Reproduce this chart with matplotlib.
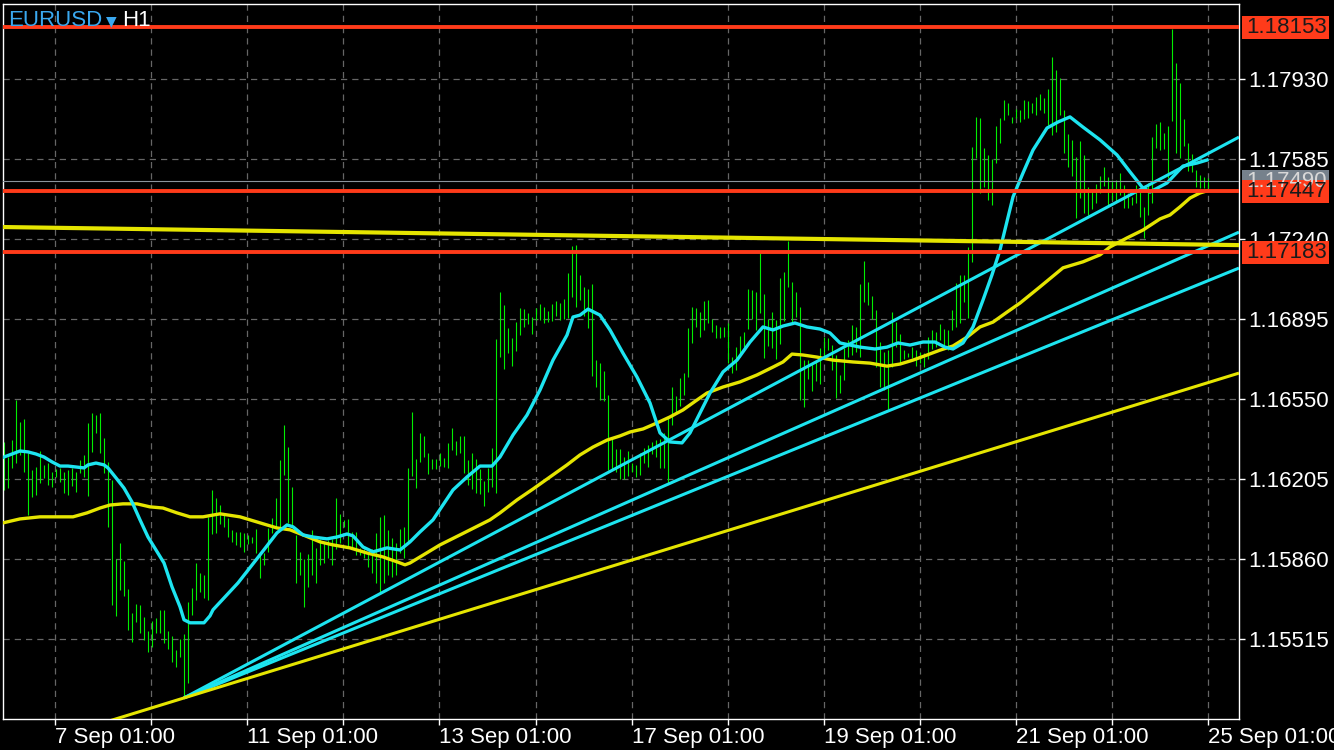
import matplotlib
matplotlib.use("Agg")
import matplotlib.pyplot as plt
from matplotlib.patches import Rectangle
from matplotlib.transforms import IdentityTransform

# EURUSD H1 bars (high / low), one per bar, left to right
highs = [
    1.16365, 1.16300, 1.16373, 1.16546, 1.16451, 1.16464, 1.16317, 1.16244, 1.16257, 1.16326,
    1.16266, 1.16274, 1.16235, 1.16248, 1.16253, 1.16235, 1.16244, 1.16253, 1.16235, 1.16287,
    1.16309, 1.16447, 1.16490, 1.16481, 1.16490, 1.16382, 1.16279, 1.16201, 1.15861, 1.15930,
    1.15852, 1.15731, 1.15628, 1.15667, 1.15662, 1.15611, 1.15550, 1.15593, 1.15606, 1.15641,
    1.15641, 1.15550, 1.15529, 1.15468, 1.15516, 1.15537, 1.15675, 1.15736, 1.15843, 1.15800,
    1.15792, 1.16042, 1.16158, 1.16123, 1.16093, 1.16050, 1.16037, 1.15986, 1.15977, 1.15977,
    1.15973, 1.15964, 1.15955, 1.15990, 1.15891, 1.15886, 1.15994, 1.16037, 1.16123, 1.16287,
    1.16438, 1.16343, 1.16171, 1.15964, 1.15891, 1.15861, 1.15882, 1.15986, 1.15908, 1.15947,
    1.15930, 1.15943, 1.15947, 1.16123, 1.16055, 1.16029, 1.16033, 1.15977, 1.15977, 1.15908,
    1.15904, 1.15891, 1.15904, 1.15973, 1.16042, 1.16050, 1.15986, 1.15951, 1.15930, 1.15990,
    1.15999, 1.16253, 1.16494, 1.16292, 1.16404, 1.16391, 1.16317, 1.16292, 1.16292, 1.16317,
    1.16296, 1.16361, 1.16425, 1.16369, 1.16391, 1.16391, 1.16287, 1.16317, 1.16292, 1.16248,
    1.16197, 1.16253, 1.16339, 1.16809, 1.17012, 1.16955, 1.16856, 1.16813, 1.16882, 1.16942,
    1.16938, 1.16921, 1.16904, 1.16942, 1.16960, 1.16947, 1.16930, 1.16960, 1.16973, 1.16964,
    1.16982, 1.17094, 1.17211, 1.17215, 1.17086, 1.17034, 1.17025, 1.17047, 1.16718, 1.16705,
    1.16671, 1.16567, 1.16382, 1.16335, 1.16335, 1.16300, 1.16326, 1.16274, 1.16266, 1.16317,
    1.16339, 1.16352, 1.16365, 1.16373, 1.16378, 1.16404, 1.16468, 1.16602, 1.16563, 1.16641,
    1.16662, 1.16856, 1.16947, 1.16942, 1.16925, 1.16973, 1.16977, 1.16895, 1.16869, 1.16861,
    1.16861, 1.16878, 1.16731, 1.16774, 1.16822, 1.16839, 1.17025, 1.17021, 1.17012, 1.17180,
    1.17004, 1.16895, 1.16925, 1.16891, 1.17073, 1.17099, 1.17232, 1.17055, 1.17012, 1.16947,
    1.16718, 1.16718, 1.16701, 1.16710, 1.16770, 1.16817, 1.16813, 1.16783, 1.16740, 1.16654,
    1.16770, 1.16805, 1.16869, 1.16861, 1.17047, 1.17146, 1.17055, 1.16995, 1.16934, 1.16796,
    1.16753, 1.16761, 1.16925, 1.16882, 1.16830, 1.16761, 1.16748, 1.16774, 1.16761, 1.16753,
    1.16748, 1.16817, 1.16848, 1.16839, 1.16873, 1.16852, 1.16848, 1.16934, 1.17051, 1.17086,
    1.17086, 1.17206, 1.17637, 1.17767, 1.17762, 1.17633, 1.17603, 1.17586, 1.17728, 1.17762,
    1.17840, 1.17827, 1.17767, 1.17801, 1.17797, 1.17840, 1.17836, 1.17827, 1.17853, 1.17866,
    1.17848, 1.17887, 1.18025, 1.17969, 1.17935, 1.17797, 1.17693, 1.17668, 1.17594, 1.17663,
    1.17603, 1.17465, 1.17452, 1.17478, 1.17512, 1.17551, 1.17508, 1.17495, 1.17495, 1.17525,
    1.17473, 1.17439, 1.17422, 1.17473, 1.17460, 1.17379, 1.17482, 1.17680, 1.17736, 1.17745,
    1.17698, 1.17728, 1.18146, 1.17999, 1.17913, 1.17758, 1.17655, 1.17607, 1.17538, 1.17517,
    1.17508, 1.17504,
]
lows = [
    1.16158, 1.16166, 1.16253, 1.16274, 1.16309, 1.16235, 1.16050, 1.16128, 1.16136, 1.16188,
    1.16210, 1.16179, 1.16171, 1.16214, 1.16192, 1.16145, 1.16136, 1.16175, 1.16149, 1.16231,
    1.16214, 1.16132, 1.16322, 1.16404, 1.16317, 1.16231, 1.15999, 1.15662, 1.15615, 1.15727,
    1.15701, 1.15555, 1.15503, 1.15589, 1.15542, 1.15512, 1.15460, 1.15481, 1.15542, 1.15542,
    1.15499, 1.15473, 1.15417, 1.15395, 1.15438, 1.15261, 1.15326, 1.15619, 1.15684, 1.15718,
    1.15692, 1.15684, 1.15968, 1.15973, 1.16012, 1.15999, 1.15955, 1.15934, 1.15921, 1.15912,
    1.15891, 1.15925, 1.15930, 1.15886, 1.15779, 1.15835, 1.15891, 1.15973, 1.15999, 1.15986,
    1.16223, 1.16016, 1.15999, 1.15757, 1.15792, 1.15654, 1.15740, 1.15792, 1.15757, 1.15835,
    1.15843, 1.15865, 1.15835, 1.15904, 1.15930, 1.15999, 1.15917, 1.15908, 1.15878, 1.15878,
    1.15865, 1.15826, 1.15800, 1.15757, 1.15718, 1.15757, 1.15792, 1.15783, 1.15792, 1.15886,
    1.15865, 1.15934, 1.16218, 1.16166, 1.16279, 1.16300, 1.16227, 1.16248, 1.16248, 1.16261,
    1.16257, 1.16253, 1.16330, 1.16309, 1.16317, 1.16231, 1.16179, 1.16162, 1.16145, 1.16141,
    1.16089, 1.16149, 1.16171, 1.16145, 1.16731, 1.16679, 1.16748, 1.16692, 1.16757, 1.16826,
    1.16861, 1.16873, 1.16830, 1.16891, 1.16891, 1.16878, 1.16882, 1.16886, 1.16908, 1.16891,
    1.16895, 1.16899, 1.16991, 1.16947, 1.16977, 1.16908, 1.16856, 1.16649, 1.16602, 1.16546,
    1.16542, 1.16244, 1.16244, 1.16235, 1.16205, 1.16205, 1.16218, 1.16235, 1.16214, 1.16223,
    1.16274, 1.16257, 1.16313, 1.16300, 1.16253, 1.16253, 1.16188, 1.16438, 1.16486, 1.16520,
    1.16567, 1.16645, 1.16792, 1.16861, 1.16817, 1.16848, 1.16878, 1.16839, 1.16813, 1.16813,
    1.16817, 1.16705, 1.16662, 1.16675, 1.16731, 1.16774, 1.16852, 1.16895, 1.16848, 1.16921,
    1.16727, 1.16779, 1.16770, 1.16723, 1.16787, 1.16886, 1.17034, 1.16882, 1.16904, 1.16546,
    1.16516, 1.16636, 1.16585, 1.16628, 1.16615, 1.16727, 1.16761, 1.16675, 1.16554, 1.16576,
    1.16632, 1.16731, 1.16740, 1.16753, 1.16731, 1.16968, 1.16955, 1.16895, 1.16688, 1.16602,
    1.16589, 1.16507, 1.16688, 1.16774, 1.16705, 1.16723, 1.16731, 1.16727, 1.16692, 1.16705,
    1.16688, 1.16723, 1.16766, 1.16774, 1.16804, 1.16774, 1.16761, 1.16848, 1.16861, 1.16878,
    1.16968, 1.16899, 1.17142, 1.17590, 1.17439, 1.17465, 1.17409, 1.17387, 1.17568, 1.17655,
    1.17754, 1.17775, 1.17741, 1.17762, 1.17745, 1.17758, 1.17762, 1.17784, 1.17775, 1.17797,
    1.17784, 1.17732, 1.17689, 1.17702, 1.17775, 1.17611, 1.17551, 1.17512, 1.17331, 1.17417,
    1.17353, 1.17344, 1.17370, 1.17396, 1.17439, 1.17469, 1.17387, 1.17409, 1.17400, 1.17430,
    1.17374, 1.17374, 1.17387, 1.17396, 1.17336, 1.17245, 1.17344, 1.17396, 1.17633, 1.17624,
    1.17629, 1.17504, 1.17749, 1.17611, 1.17590, 1.17642, 1.17534, 1.17530, 1.17465, 1.17461,
    1.17461, 1.17461,
]

# fast moving average (cyan), read at these bar positions
fast_ma_bar = [0, 2, 4, 6, 8, 10, 12, 14, 16, 18, 20, 21, 23, 25, 26, 28, 30, 32, 34, 36,
               38, 40, 42, 44, 45, 46.5, 50, 51.5, 52.25, 58.5, 64, 68.25, 70.75, 72.25, 74.75,
               77.25, 80.75, 83.25, 85.75, 87.25, 89.75, 92.25, 95.75, 99, 101.5, 104, 107.25,
               112.25, 115.75, 119, 122, 124, 127.25, 130.75, 134, 137.25, 140.75, 142.25, 144,
               146, 149, 151.5, 154.75, 158.25, 161.5, 164, 166.5, 169.5, 171.5, 174, 176.5,
               179.75, 183.25, 186.5, 189.75, 192.25, 194.75, 197.75, 200.75, 204, 206.5, 209,
               214, 217.75, 220.75, 223.5, 226.5, 229.75, 232.75, 235.25, 237.25, 239.75, 242.25,
               244.75, 247, 249, 252.25, 254.75, 257.25, 260.75, 263.5, 266.5, 269.75, 274,
               278.25, 281.5, 284.5, 286.5, 290.75, 294.75, 298.25, 300.75]
fast_ma = [1.16300, 1.16313, 1.16326, 1.16322, 1.16313, 1.16300, 1.16279, 1.16261, 1.16261,
           1.16257, 1.16253, 1.16266, 1.16274, 1.16266, 1.16253, 1.16210, 1.16166, 1.16106,
           1.16029, 1.15955, 1.15899, 1.15843, 1.15740, 1.15654, 1.15598, 1.15585, 1.15585,
           1.15615, 1.15641, 1.15757, 1.15878, 1.15973, 1.16007, 1.15999, 1.15964, 1.15955,
           1.15947, 1.15955, 1.15968, 1.15960, 1.15912, 1.15891, 1.15908, 1.15899, 1.15934,
           1.15977, 1.16029, 1.16158, 1.16214, 1.16261, 1.16261, 1.16300, 1.16395, 1.16481,
           1.16589, 1.16718, 1.16826, 1.16904, 1.16912, 1.16938, 1.16912, 1.16848, 1.16748,
           1.16645, 1.16533, 1.16404, 1.16365, 1.16361, 1.16404, 1.16490, 1.16576, 1.16667,
           1.16718, 1.16796, 1.16861, 1.16848, 1.16865, 1.16878, 1.16861, 1.16852, 1.16835,
           1.16792, 1.16774, 1.16766, 1.16774, 1.16792, 1.16783, 1.16796, 1.16796, 1.16774,
           1.16766, 1.16792, 1.16861, 1.16977, 1.17086, 1.17193, 1.17422, 1.17525, 1.17624,
           1.17719, 1.17745, 1.17767, 1.17723, 1.17668, 1.17603, 1.17530, 1.17465, 1.17443,
           1.17482, 1.17555, 1.17568, 1.17581]

# slow moving average (yellow)
slow_ma_bar = [-0.25, 4, 9, 14, 17.25, 20.75, 24, 26.5, 29.75, 33.25, 36.5, 39.75, 43.25, 46.5,
               49.75, 54, 59, 64, 68.25, 71.5, 74.75, 79, 82.25, 86.5, 90.75, 94.75, 98.25,
               100.25, 101.5, 109, 114, 121.5, 124, 128.25, 132.25, 136.5, 140.75, 144, 147.25,
               150.75, 154, 156.5, 159.75, 163.25, 166.5, 169.75, 173.25, 175.75, 179.75, 184,
               188.25, 192.25, 194.75, 197, 199.75, 203.25, 207.25, 212.25, 216.5, 220.75, 224,
               227.25, 230.75, 234, 237.25, 240.75, 244, 247.25, 250.75, 254, 259, 264.75,
               269.75, 274, 276.5, 280.75, 284.75, 289, 291.5, 294, 296.5, 299, 300.75]
slow_ma = [1.16016, 1.16033, 1.16042, 1.16042, 1.16042, 1.16059, 1.16080, 1.16093, 1.16098,
           1.16098, 1.16085, 1.16080, 1.16059, 1.16042, 1.16042, 1.16055, 1.16042, 1.16016,
           1.15994, 1.15986, 1.15964, 1.15934, 1.15921, 1.15908, 1.15886, 1.15869, 1.15848,
           1.15835, 1.15843, 1.15921, 1.15964, 1.16029, 1.16059, 1.16115, 1.16162, 1.16214,
           1.16266, 1.16309, 1.16343, 1.16373, 1.16391, 1.16408, 1.16421, 1.16447, 1.16473,
           1.16503, 1.16546, 1.16576, 1.16602, 1.16624, 1.16654, 1.16688, 1.16710, 1.16744,
           1.16740, 1.16731, 1.16718, 1.16710, 1.16705, 1.16692, 1.16701, 1.16718, 1.16740,
           1.16761, 1.16779, 1.16817, 1.16861, 1.16882, 1.16925, 1.16964, 1.17034, 1.17116,
           1.17142, 1.17172, 1.17206, 1.17245, 1.17279, 1.17327, 1.17344, 1.17379, 1.17417,
           1.17439, 1.17448]

# trend lines: anchor bar/price pairs
trend_bar1 = [45, 45, 45, 20, -0.25]
trend_p1 = [1.15261, 1.15261, 1.15261, 1.15128, 1.17292]
trend_bar2 = [308.75, 308.75, 308.75, 308.75, 308.75]
trend_p2 = [1.17680, 1.17270, 1.17115, 1.16662, 1.17214]
trend_colors = ["#1de4f0", "#1de4f0", "#1de4f0", "#e5e500", "#e5e500"]
trend_widths = [2.2, 2.2, 2.2, 2.2, 3.0]

levels = [1.18153, 1.17447, 1.17183]
bid = 1.17490

price_ticks = [1.15515, 1.15860, 1.16205, 1.16550, 1.16895, 1.17240, 1.17585, 1.17930]
time_ticks = [12.75, 60.75, 108.75, 157, 205, 253, 301]
time_minor = [36.75, 84.75, 133, 181, 229, 277]
time_labels = ["7 Sep 01:00", "11 Sep 01:00", "13 Sep 01:00", "17 Sep 01:00",
               "19 Sep 01:00", "21 Sep 01:00", "25 Sep 01:00"]

plt.rcParams['font.family'] = ['Liberation Sans', 'DejaVu Sans']

W, H = 1334, 750
fig = plt.figure(figsize=(W / 100, H / 100), dpi=100, facecolor='black')
ax = fig.add_axes([3 / W, 31 / H, 1236 / W, 715 / H])
ax.set_facecolor('black')
ax.set_xlim(-0.25, 308.75)
ax.set_ylim(1.15170, 1.18254)

# grid
ax.set_xticks(time_ticks, labels=time_labels)
ax.set_xticks(time_minor, minor=True)
ax.set_yticks(price_ticks, labels=[f"{p:.5f}" for p in price_ticks])
ax.grid(True, which='both', color='#666666', linestyle=(0, (5, 4)), linewidth=0.9)
ax.set_axisbelow(True)

ax.vlines(range(len(highs)), lows, highs, color='#00ee00', linewidth=0.8, zorder=2)
ax.plot(slow_ma_bar, slow_ma, color='#e5e500', linewidth=2.4, zorder=3)
ax.plot(fast_ma_bar, fast_ma, color='#1de4f0', linewidth=2.4, zorder=3)

for b1, p1, b2, p2, c, w in zip(trend_bar1, trend_p1, trend_bar2, trend_p2, trend_colors, trend_widths):
    ax.plot([b1, b2], [p1, p2], color=c, linewidth=w, zorder=4, solid_capstyle='butt')

ax.axhline(bid, color='#8a949c', linewidth=0.8, zorder=4)
for p in levels:
    ax.axhline(p, color='#ff3b1a', linewidth=2.8, zorder=5)

for s in ax.spines.values():
    s.set_color('white')
    s.set_linewidth(1.0)
ax.yaxis.tick_right()
ax.tick_params(axis='y', colors='white', length=4, width=1, labelsize=16, pad=3)
ax.tick_params(axis='x', which='both', colors='white', length=4, width=1, labelsize=16, pad=2)
for lab in ax.get_xticklabels():
    lab.set_ha('left')

# right-hand price boxes
def price_box(p, face, txt_color):
    xd, yd = ax.transData.transform((308.75, p))
    fig.add_artist(Rectangle((xd + 3, yd - 11.5), 87, 23, transform=IdentityTransform(),
                             facecolor=face, edgecolor='none'))
    fig.text(xd + 7, yd, f"{p:.5f}", transform=IdentityTransform(), color=txt_color,
             fontsize=16, va='center', ha='left')

price_box(bid, '#76818c', '#d8d8d8')
for p in levels:
    price_box(p, '#ff3b1a', '#1a1a1a')

# symbol title
fig.text(8, H - 20, "EURUSD", transform=IdentityTransform(), color='#3aa8ef',
         fontsize=16, va='center', ha='left')
fig.text(106, H - 21, "\u25bc", transform=IdentityTransform(), color='#3aa8ef',
         fontsize=10, va='center', ha='left', family=['DejaVu Sans'])
fig.text(122, H - 20, "H1", transform=IdentityTransform(), color='white',
         fontsize=16, va='center', ha='left')

fig.savefig('out.png', dpi=100, facecolor='black')
